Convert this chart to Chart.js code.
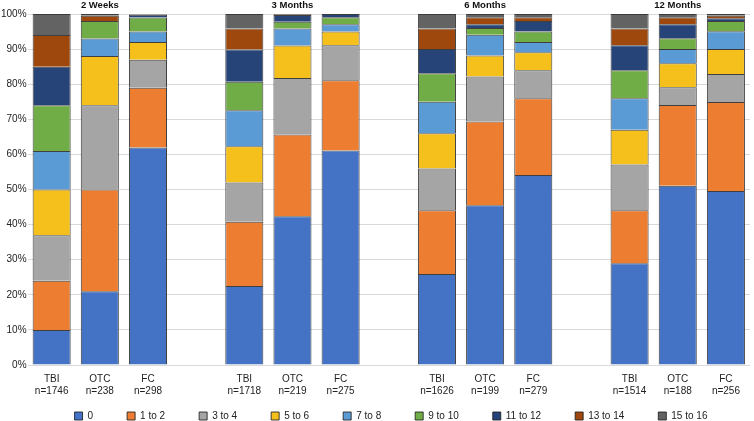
<!DOCTYPE html>
<html lang="en">
<head>
    <meta charset="UTF-8">
    <title>Score distribution by time point</title>
    <style>
        body { margin: 0; padding: 0; background: #fff; overflow: hidden; }
        #scoreChart { display: block; }
    </style>
</head>
<body>
    <canvas id="scoreChart" width="754" height="421"></canvas>

    <script src="https://cdn.jsdelivr.net/npm/chart.js"></script>
    <script>
        // time points and the three cohorts in each
        const timePoints = ['2 Weeks', '3 Months', '6 Months', '12 Months'];
        const cohorts = ['TBI', 'OTC', 'FC'];
        const sampleSizes = [
            [1746, 238, 298],
            [1718, 219, 275],
            [1626, 199, 279],
            [1514, 188, 256]
        ];
        const scoreBins = ['0', '1 to 2', '3 to 4', '5 to 6', '7 to 8', '9 to 10', '11 to 12', '13 to 14', '15 to 16'];
        const binColors = ['#4472C4', '#ED7D31', '#A5A5A5', '#F5C01C', '#5B9BD5', '#70AD47', '#264478', '#9E480E', '#636363'];

        // percent per bin, order: 2W TBI/OTC/FC, 3M TBI/OTC/FC, 6M ..., 12M ...
        const bin0    = [10, 21, 62,   22.5, 42.4, 61.1, 25.9, 45.5, 54.1, 29, 51.1, 49.6];
        const bin1to2 = [14, 29, 17,   18.3, 23.3, 20,   18.2, 23.9, 21.9, 15.1, 23, 25.3];
        const bin3to4 = [13, 24, 8,    11.2, 16.1, 10,   11.9, 12.8, 8,    13, 5, 8];
        const bin5to6 = [13, 14, 5,    10.3, 9.2, 3.9,   10, 6, 5.1,       9.9, 6.9, 7.1];
        const bin7to8 = [11, 5, 3,     10.3, 4.9, 2.1,   9, 5.9, 2.9,      9, 4, 5.1];
        const bin9to10 = [13, 5, 4,    8.1, 1.9, 2,      8.1, 1.9, 3,      8, 3.1, 2.9];
        const bin11to12 = [11, 0, 0.8, 9.2, 1.9, 0.9,    6.9, 1.1, 3,      7.1, 4, 0.8];
        const bin13to14 = [9, 1.5, 0.1, 6, 0.2, 0,       5.9, 2, 1.1,      4.8, 2, 0.7];
        const bin15to16 = [6, 0.5, 0.1, 4.1, 0.1, 0,     4.1, 0.9, 0.9,    4.1, 0.9, 0.5];
        const binValues = [bin0, bin1to2, bin3to4, bin5to6, bin7to8, bin9to10, bin11to12, bin13to14, bin15to16];

        const FONT = '"Liberation Sans", Arial, sans-serif';

        // build the category axis with an empty slot between time points
        const labels = [];
        const groupCenterIndex = [];
        timePoints.forEach((tp, g) => {
            cohorts.forEach((c, k) => {
                if (k === 1) groupCenterIndex.push(labels.length);
                labels.push([c, 'n=' + sampleSizes[g][k]]);
            });
            if (g < timePoints.length - 1) labels.push('');
        });

        function spread(values) {
            const out = [];
            values.forEach((v, i) => {
                out.push(v);
                if (i % 3 === 2 && i < values.length - 1) out.push(null);
            });
            return out;
        }

        const datasets = scoreBins.map((name, i) => ({
            label: name,
            data: spread(binValues[i]),
            backgroundColor: binColors[i],
            borderColor: 'rgba(30,30,30,0.85)',
            borderWidth: 1,
            barPercentage: 0.79,
            categoryPercentage: 1.0
        }));

        // time point titles above the middle bar of each group
        const groupTitles = {
            id: 'groupTitles',
            afterLayout(chart) {
                // legend sits higher and a bit right of centre in the original
                chart.legend.top -= 28;
                chart.legend.left += 16;
                chart.legend.right += 16;
            },
            afterDraw(chart) {
                const ctx = chart.ctx;
                const xScale = chart.scales.x;
                ctx.save();
                ctx.font = 'bold 9.5px ' + FONT;
                ctx.fillStyle = '#111';
                ctx.textAlign = 'center';
                ctx.textBaseline = 'middle';
                timePoints.forEach((tp, g) => {
                    ctx.fillText(tp, xScale.getPixelForValue(groupCenterIndex[g]), chart.chartArea.top - 9);
                });
                ctx.restore();
            }
        };

        new Chart(document.getElementById('scoreChart'), {
            type: 'bar',
            data: { labels: labels, datasets: datasets },
            options: {
                responsive: false,
                animation: false,
                layout: { padding: { top: 14, right: 4, left: 0, bottom: 0 } },
                plugins: {
                    legend: {
                        position: 'bottom',
                        maxHeight: 16,
                        labels: {
                            boxWidth: 8,
                            boxHeight: 8,
                            padding: 34,
                            color: '#222',
                            font: { size: 10, family: FONT }
                        }
                    },
                    tooltip: { enabled: false }
                },
                scales: {
                    x: {
                        stacked: true,
                        grid: { display: false, drawTicks: false },
                        border: { display: false },
                        ticks: {
                            autoSkip: false,
                            maxRotation: 0,
                            color: '#222',
                            padding: 8,
                            font: { size: 10, lineHeight: 1.2, family: FONT }
                        }
                    },
                    y: {
                        stacked: true,
                        min: 0,
                        max: 100,
                        grid: { color: '#d9d9d9', drawTicks: false },
                        border: { display: false },
                        ticks: {
                            stepSize: 10,
                            color: '#222',
                            padding: 1,
                            font: { size: 10, family: FONT },
                            callback: v => v + '%'
                        }
                    }
                }
            },
            plugins: [groupTitles]
        });
    </script>
</body>
</html>
